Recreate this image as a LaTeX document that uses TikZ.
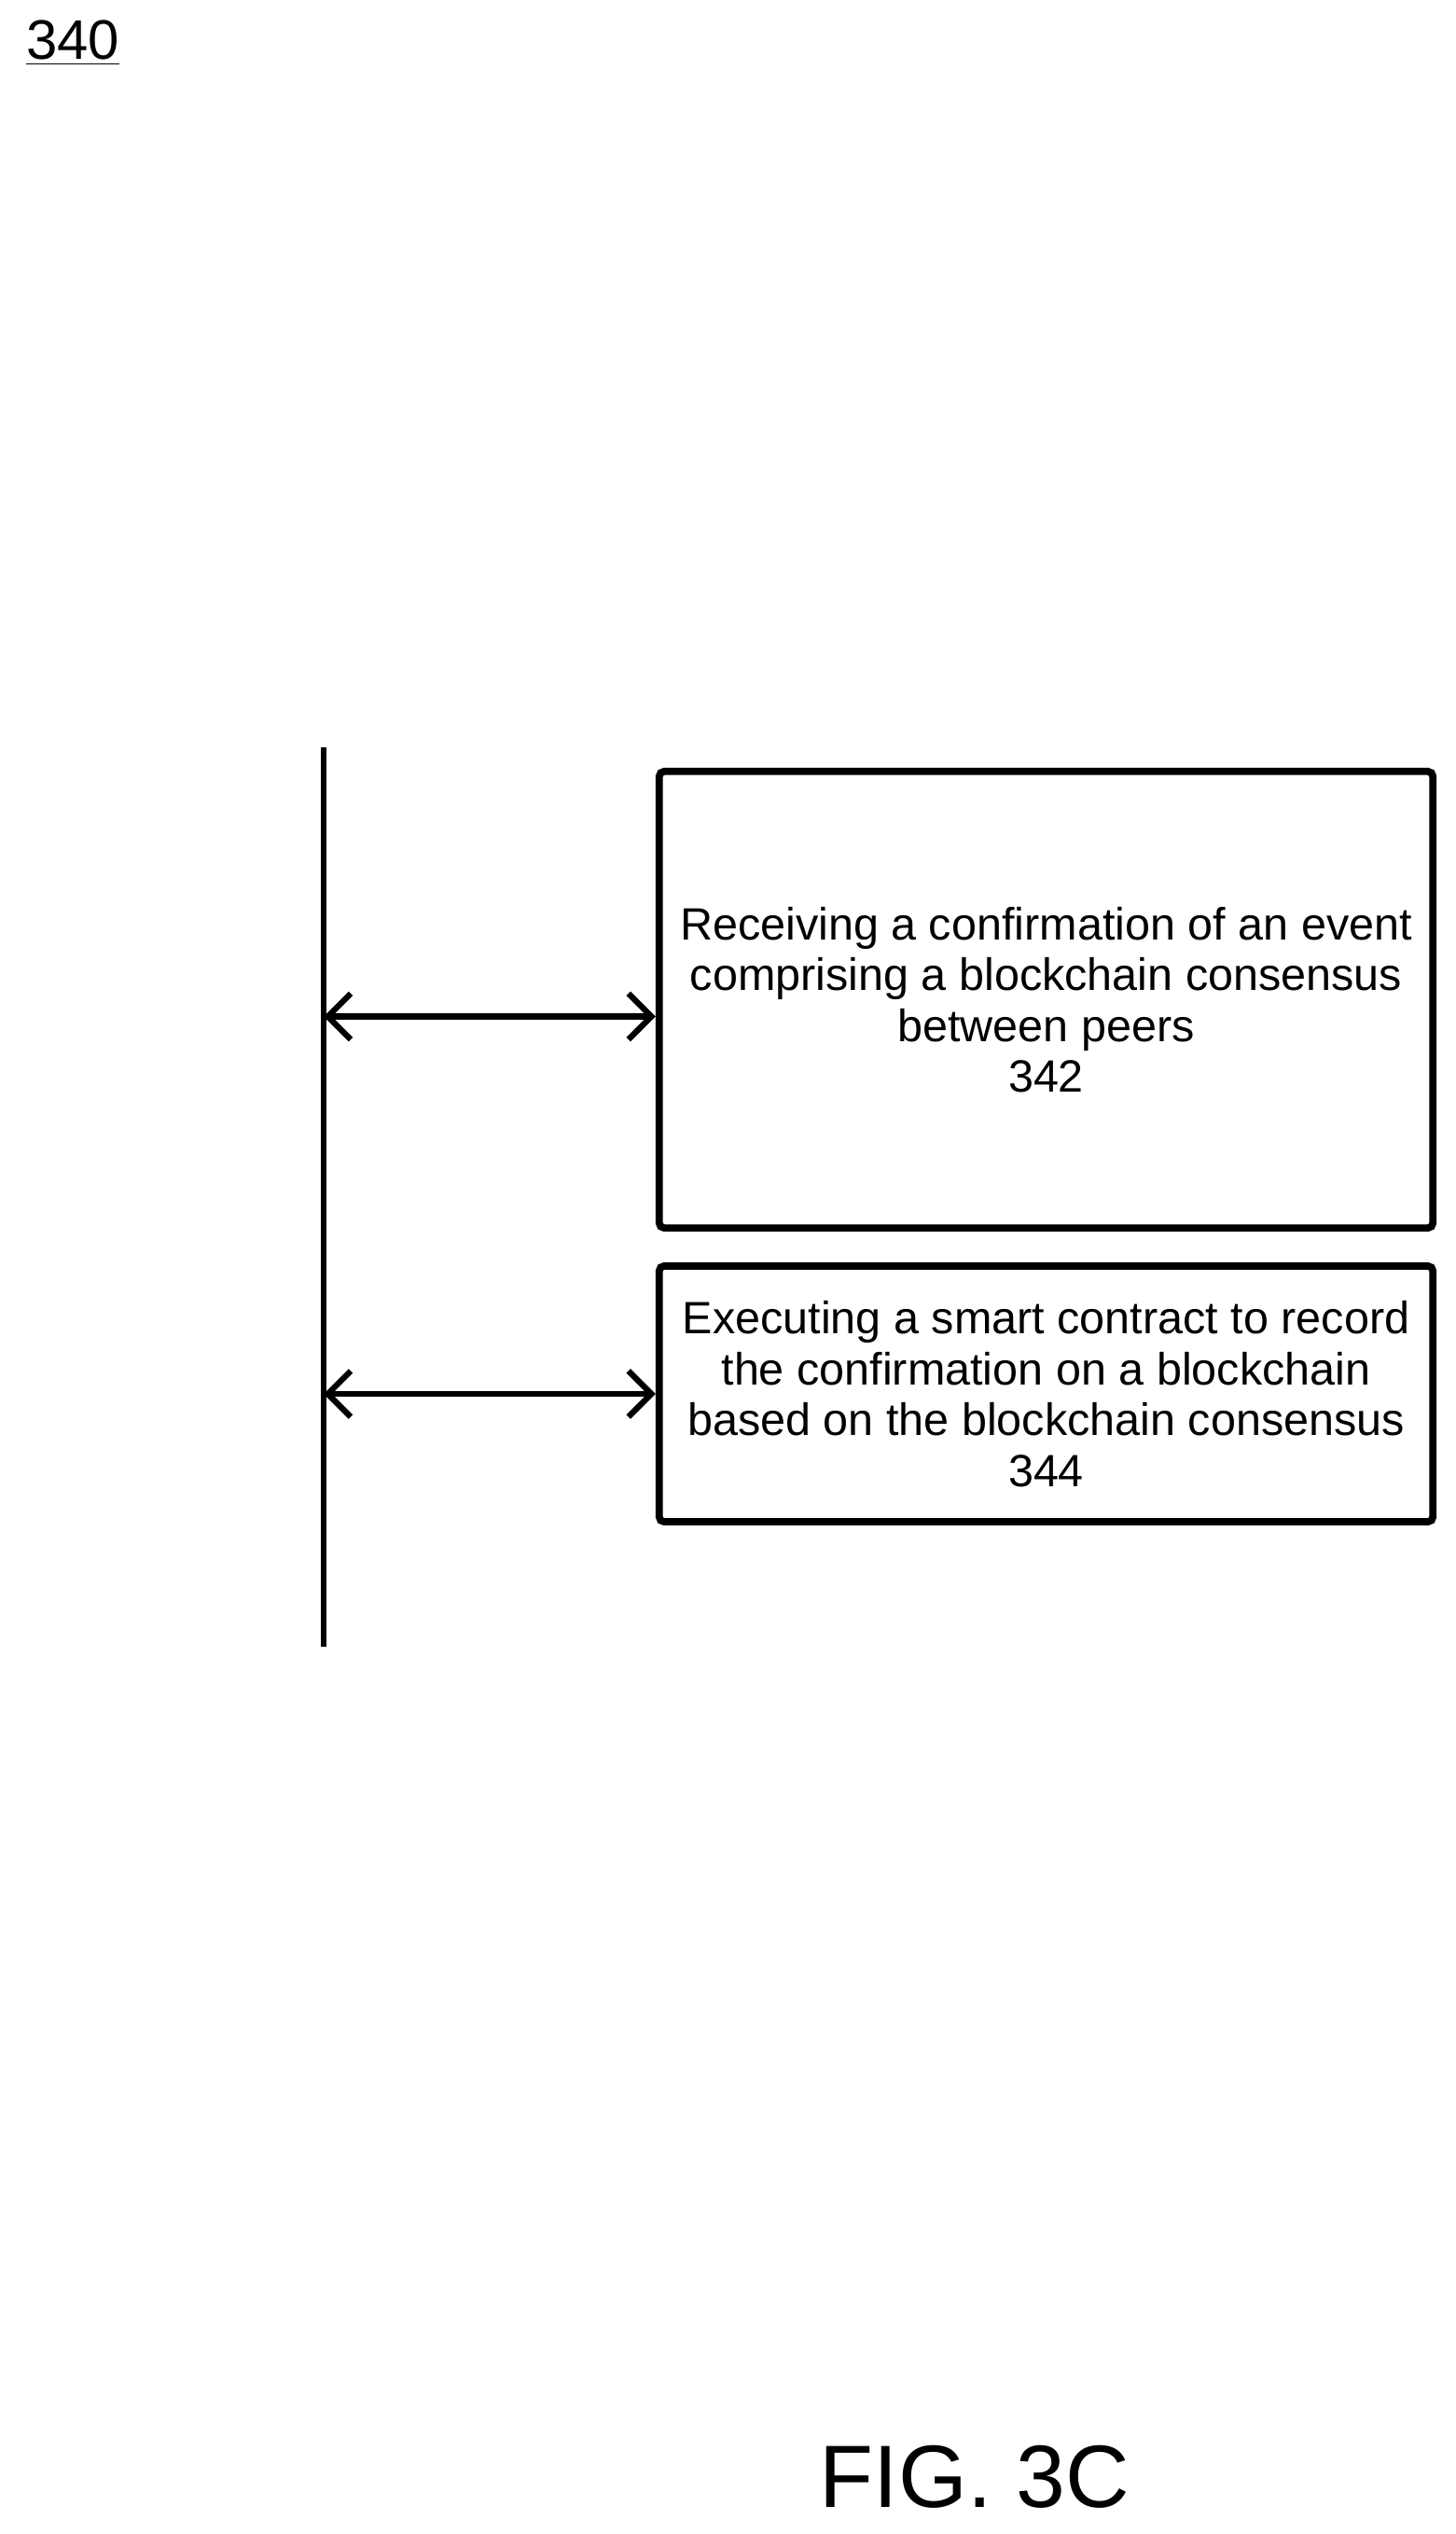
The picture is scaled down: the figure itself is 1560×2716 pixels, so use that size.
\documentclass[tikz,border=0pt]{standalone}
\usepackage{fontspec}
\setmainfont{Liberation Sans}
\usetikzlibrary{positioning, arrows.meta}

\begin{document}
\begin{tikzpicture}[>=stealth,x=0.01cm,y=-0.01cm]
\tikzstyle{stepbox}=[draw,line width=2.2pt,rounded corners=1.5pt,align=center,inner sep=0pt]
\tikzstyle{link}=[{Straight Barb[length=7pt,width=14pt]}-{Straight Barb[length=7pt,width=14pt]},line width=1.8pt]

  \useasboundingbox (0,0) rectangle (1560,2716);

  %--- label ---
  \node[anchor=west,font=\fontsize{17}{19}\selectfont] (fig) at (16,46) {\underline{340}};

  %--- nodes ---
  \coordinate (top) at (347,801);
  \coordinate (bot) at (347,1765);
  \node[stepbox] (342) at (1121.5,1071.5)
    [minimum width=8.29cm,minimum height=4.89cm,font=\fontsize{13.8}{15.5}\selectfont]
    {Receiving a confirmation of an event\\comprising a blockchain consensus\\between peers\\342};
  \node[stepbox] (344) at (1121.5,1494)
    [minimum width=8.29cm,minimum height=2.74cm,font=\fontsize{13.8}{15.5}\selectfont]
    {Executing a smart contract to record\\the confirmation on a blockchain\\based on the blockchain consensus\\344};
  \node[font=\fontsize{27}{29}\selectfont] (cap) at (1045,2655) {FIG. 3C};

  %--- connectors ---
  \draw[line width=1.8pt] (top) -- (bot);
  \draw[link] ([yshift=-0.18cm]top |- 342.west) -- ([yshift=-0.18cm]342.west);
  \draw[link] (top |- 344.west) -- (344.west);
\end{tikzpicture}
\end{document}
